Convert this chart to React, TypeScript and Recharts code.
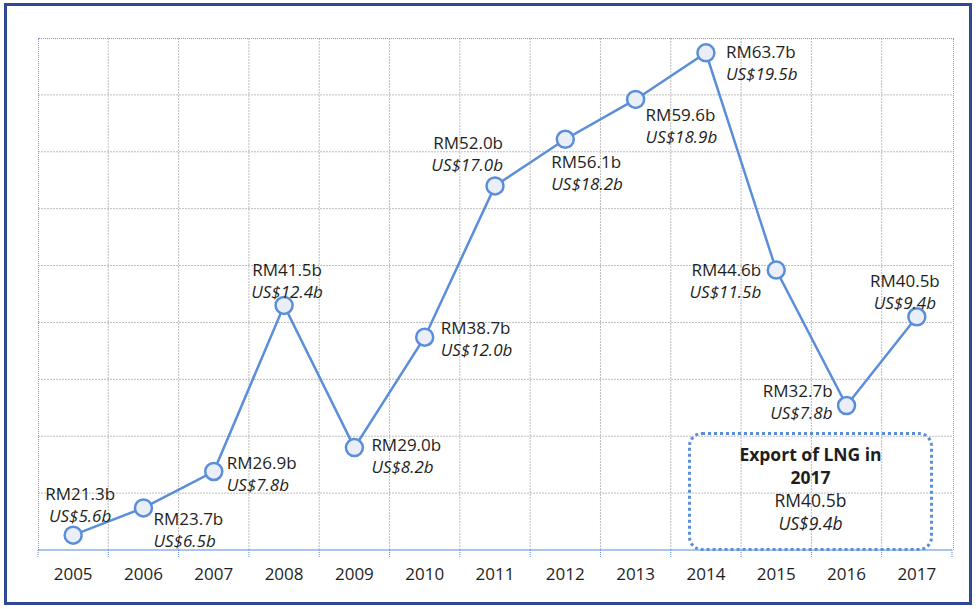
import { LineChart, Line, XAxis, YAxis, CartesianGrid } from "recharts";

const years = ["2005", "2006", "2007", "2008", "2009", "2010", "2011", "2012", "2013", "2014", "2015", "2016", "2017"];
const rmValues = [21.3, 23.7, 26.9, 41.5, 29.0, 38.7, 52.0, 56.1, 59.6, 63.7, 44.6, 32.7, 40.5];
const usdValues = [5.6, 6.5, 7.8, 12.4, 8.2, 12.0, 17.0, 18.2, 18.9, 19.5, 11.5, 7.8, 9.4];
const yTicks = [20, 25, 30, 35, 40, 45, 50, 55, 60, 65];

const data = years.map((year, i) => ({ year, rm: rmValues[i], usd: usdValues[i] }));

// where each two-line label sits relative to its point
const labelPlacement: { anchor: "start" | "middle" | "end"; dx: number; dy: number }[] = [
  { anchor: "middle", dx: 7, dy: -42 },
  { anchor: "start", dx: 10, dy: 11 },
  { anchor: "start", dx: 13, dy: -9 },
  { anchor: "middle", dx: 3, dy: -36 },
  { anchor: "start", dx: 17, dy: -3 },
  { anchor: "start", dx: 16, dy: -10 },
  { anchor: "end", dx: 8, dy: -43 },
  { anchor: "start", dx: -14, dy: 22 },
  { anchor: "start", dx: 10, dy: 15 },
  { anchor: "start", dx: 20, dy: -1 },
  { anchor: "end", dx: -15, dy: -1 },
  { anchor: "end", dx: -14, dy: -15 },
  { anchor: "middle", dx: -12, dy: -36 },
];

const W = 978;
const H = 609;
const PLOT_LEFT = 38;
const PLOT_RIGHT = 952;
const PLOT_TOP = 38;
const PLOT_BOTTOM = 550;
const BAND = (PLOT_RIGHT - PLOT_LEFT) / years.length;

const FONT = '"Century Gothic", "Open Sans", sans-serif';
const BLUE = "#5B8ED8";
const TEXT = "#1e1e1e";

const PointLabel = (props: any) => {
  const { x, y, index } = props;
  const p = labelPlacement[index];
  if (!p) return null;
  const lx = x + p.dx;
  const ly = y + p.dy;
  return (
    <g>
      <text x={lx} y={ly} textAnchor={p.anchor} dominantBaseline="central" fontSize={17} fontFamily={FONT} fill={TEXT}>
        {`RM${rmValues[index].toFixed(1)}b`}
      </text>
      <text
        x={lx}
        y={ly + 22}
        textAnchor={p.anchor}
        dominantBaseline="central"
        fontSize={17}
        fontStyle="italic"
        fontFamily={FONT}
        fill={TEXT}
      >
        {`US$${usdValues[index].toFixed(1)}b`}
      </text>
    </g>
  );
};

const YearTick = (props: any) => {
  const { x, payload, index } = props;
  const left = x - BAND / 2;
  return (
    <g>
      <line x1={left} x2={left} y1={PLOT_BOTTOM} y2={PLOT_BOTTOM + 7} stroke={BLUE} strokeDasharray="1 1" />
      {index === years.length - 1 && (
        <line x1={x + BAND / 2} x2={x + BAND / 2} y1={PLOT_BOTTOM} y2={PLOT_BOTTOM + 7} stroke={BLUE} strokeDasharray="1 1" />
      )}
      <text x={x} y={PLOT_BOTTOM + 23} textAnchor="middle" dominantBaseline="central" fontSize={17} fontFamily={FONT} fill={TEXT}>
        {payload.value}
      </text>
    </g>
  );
};

const App = () => {
  return (
    <div style={{ position: "absolute", left: 0, top: 0, width: W, height: H, background: "#fff", overflow: "hidden" }}>
      <div
        style={{
          position: "absolute",
          left: 4,
          top: 3,
          width: 968 - 6,
          height: 602 - 6,
          border: "3px solid #2F4A94",
        }}
      />
      <LineChart
        width={W}
        height={H}
        data={data}
        margin={{ top: PLOT_TOP, right: W - PLOT_RIGHT, left: PLOT_LEFT, bottom: 0 }}
      >
        <CartesianGrid
          stroke="#bdbdbd"
          strokeDasharray="2 1"
          horizontalValues={yTicks.slice(1, -1)}
          verticalCoordinatesGenerator={() =>
            years.slice(1).map((_, i) => PLOT_LEFT + (i + 1) * BAND)
          }
        />
        <XAxis
          dataKey="year"
          height={H - PLOT_BOTTOM}
          padding={{ left: BAND / 2, right: BAND / 2 }}
          tickLine={false}
          axisLine={{ stroke: "#8FB3E6", strokeWidth: 1.5 }}
          tick={<YearTick />}
          interval={0}
        />
        <YAxis hide domain={[20, 65]} ticks={yTicks} type="number" />
        <Line
          type="linear"
          dataKey="rm"
          stroke={BLUE}
          strokeWidth={2.5}
          dot={{ r: 8.5, fill: "#E9EEF8", stroke: BLUE, strokeWidth: 2.5 }}
          label={(props: any) => <PointLabel {...props} />}
          isAnimationActive={false}
        />
      </LineChart>
      <div
        style={{
          position: "absolute",
          left: PLOT_LEFT,
          top: PLOT_TOP,
          width: PLOT_RIGHT - PLOT_LEFT,
          height: PLOT_BOTTOM - PLOT_TOP - 1,
          borderTop: "1px dotted #6F9CDB",
          borderLeft: "1px dotted #6F9CDB",
          borderRight: "1px dotted #6F9CDB",
          pointerEvents: "none",
        }}
      />
      <div
        style={{
          position: "absolute",
          left: 688,
          top: 432,
          width: 245 - 6,
          height: 111 - 6,
          border: "3px dotted #5B8ED8",
          borderRadius: 14,
          background: "transparent",
          fontFamily: FONT,
          color: TEXT,
          textAlign: "center",
          fontSize: 17.5,
          lineHeight: "23px",
          paddingTop: 8,
          boxSizing: "content-box",
        }}
      >
        <div style={{ fontWeight: 700 }}>Export of LNG in</div>
        <div style={{ fontWeight: 700 }}>{years[years.length - 1]}</div>
        <div>{`RM${rmValues[rmValues.length - 1].toFixed(1)}b`}</div>
        <div style={{ fontStyle: "italic" }}>{`US$${usdValues[usdValues.length - 1].toFixed(1)}b`}</div>
      </div>
    </div>
  );
};

export default App;
